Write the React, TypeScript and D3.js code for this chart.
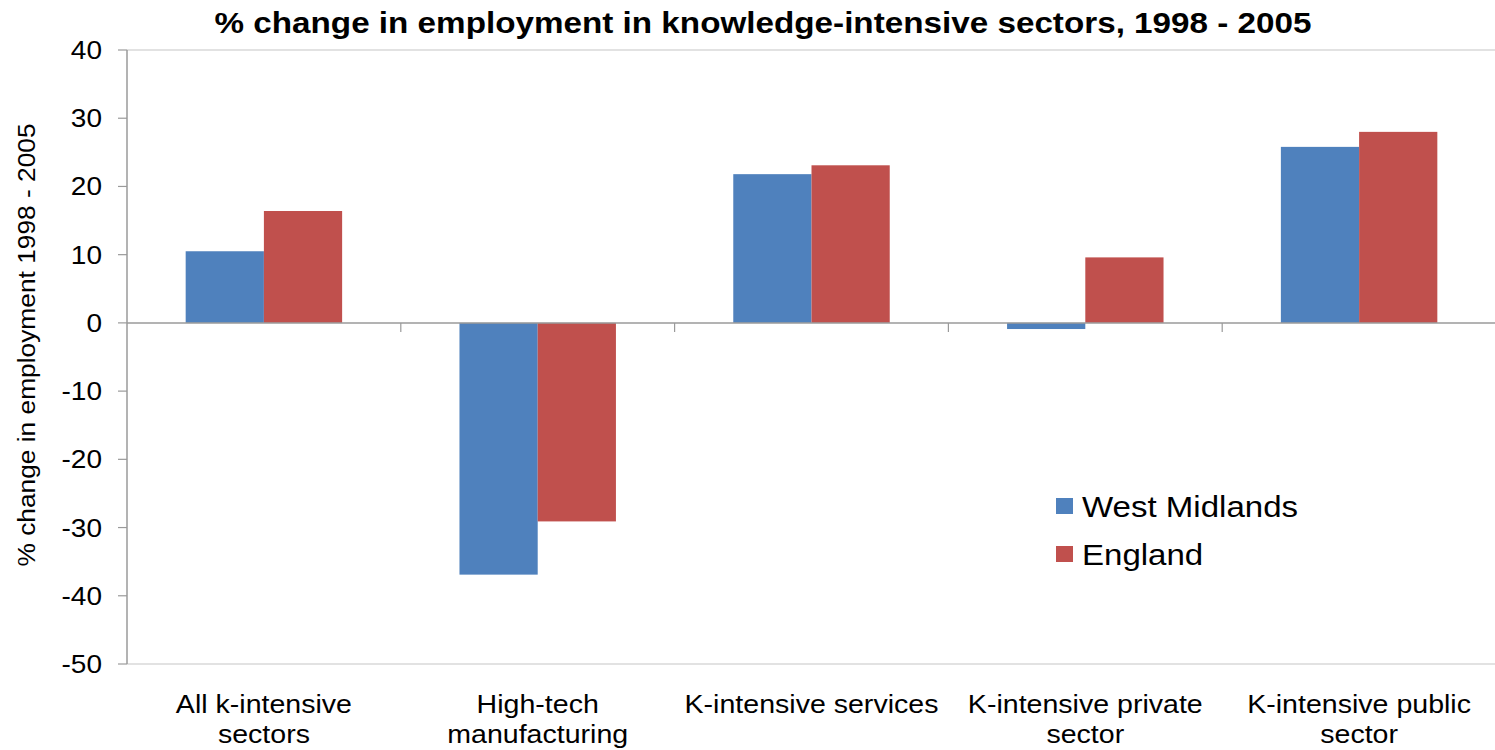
import React from "react";
import * as d3 from "d3";

const categories: string[][] = [
  ["All k-intensive", "sectors"],
  ["High-tech", "manufacturing"],
  ["K-intensive services"],
  ["K-intensive private", "sector"],
  ["K-intensive public", "sector"],
];
const westMidlands = [10.5, -36.9, 21.8, -0.9, 25.8];
const england = [16.4, -29.1, 23.1, 9.6, 28.0];
const seriesNames = ["West Midlands", "England"];
const yTicks = [40, 30, 20, 10, 0, -10, -20, -30, -40, -50];

const W = 1495;
const H = 750;
const left = 127;
const right = 1496;
const top = 50;
const bottom = 664;
const colors = ["#4F81BD", "#C0504D"];
const font = "'Liberation Sans', Arial, sans-serif";
const SX = 1.12;

export default function App() {
  const y = d3.scaleLinear().domain([-50, 40]).range([bottom, top]);
  const x0 = d3
    .scaleBand<number>()
    .domain(d3.range(categories.length))
    .range([left, right])
    .paddingInner(0)
    .paddingOuter(0);
  const bw = x0.bandwidth();
  const barW = bw / 3.5;
  const x1 = d3
    .scaleBand<number>()
    .domain([0, 1])
    .range([bw * 0.75 / 3.5, bw * 0.75 / 3.5 + 2 * barW]);
  const series = [westMidlands, england];

  return (
    <svg
      width={W}
      height={H}
      style={{ position: "absolute", left: 0, top: 0, background: "#fff" }}
      fontFamily={font}
    >
      <text
        x={763}
        y={33}
        textAnchor="middle"
        fontSize={29}
        fontWeight="bold"
        fill="#000"
        textLength={1097}
        lengthAdjust="spacingAndGlyphs"
      >
        % change in employment in knowledge-intensive sectors, 1998 - 2005
      </text>
      {/* plot border lines */}
      <line x1={left} x2={right} y1={top} y2={top} stroke="#d9d9d9" strokeWidth={1.5} />
      <line x1={left} x2={right} y1={bottom} y2={bottom} stroke="#d9d9d9" strokeWidth={1.5} />
      {/* bars */}
      {series.map((vals, si) =>
        vals.map((v, ci) => {
          const bx = (x0(ci) as number) + (x1(si) as number);
          const y0 = y(0);
          const yv = y(v);
          return (
            <rect
              key={`${si}-${ci}`}
              x={bx}
              y={Math.min(y0, yv)}
              width={x1.bandwidth()}
              height={Math.abs(yv - y0)}
              fill={colors[si]}
            />
          );
        })
      )}
      {/* zero axis */}
      <line x1={left} x2={right} y1={y(0)} y2={y(0)} stroke="#9a9a9a" strokeWidth={1.5} />
      {d3.range(1, categories.length).map((i) => (
        <line
          key={i}
          x1={x0(i) as number}
          x2={x0(i) as number}
          y1={y(0)}
          y2={y(0) + 9}
          stroke="#9a9a9a"
          strokeWidth={1.2}
        />
      ))}
      {/* y axis */}
      <line x1={left} x2={left} y1={top} y2={bottom} stroke="#9a9a9a" strokeWidth={1.5} />
      {yTicks.map((t) => (
        <g key={t}>
          <line x1={left - 9} x2={left} y1={y(t)} y2={y(t)} stroke="#9a9a9a" strokeWidth={1.2} />
          <text
            transform={`translate(102,${y(t) + 9}) scale(${SX},1)`}
            textAnchor="end"
            fontSize={25}
            fill="#000"
          >
            {t}
          </text>
        </g>
      ))}
      <text
        transform={`translate(35,${(top + bottom) / 2 - 12}) rotate(-90) scale(${SX},1)`}
        textAnchor="middle"
        fontSize={23.5}
        fill="#000"
      >
        % change in employment 1998 - 2005
      </text>
      {/* category labels */}
      {categories.map((lines, ci) => (
        <g key={ci}>
          {lines.map((l, li) => (
            <text
              key={li}
              transform={`translate(${(x0(ci) as number) + bw / 2},${713 + li * 30}) scale(${SX},1)`}
              textAnchor="middle"
              fontSize={25.5}
              fill="#000"
            >
              {l}
            </text>
          ))}
        </g>
      ))}
      {/* legend */}
      {seriesNames.map((n, i) => (
        <g key={n} transform={`translate(1056,${498 + i * 48})`}>
          <rect x={0} y={0} width={17} height={16} fill={colors[i]} />
          <text transform={`translate(26,19) scale(${SX},1)`} fontSize={29.5} fill="#000">
            {n}
          </text>
        </g>
      ))}
    </svg>
  );
}
